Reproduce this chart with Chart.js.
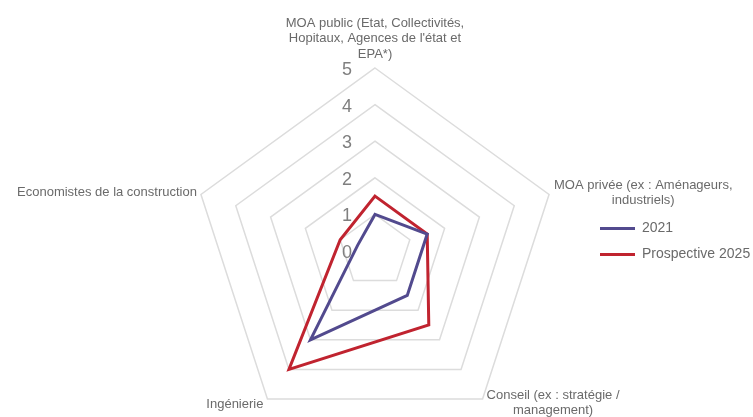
<!DOCTYPE html>
<html lang="fr">
<head>
<meta charset="utf-8">
<title>Radar 2021 / 2025</title>
<script src="https://cdn.jsdelivr.net/npm/chart.js@4.4.1/dist/chart.umd.min.js"></script>
<style>
  html, body { margin: 0; padding: 0; background: #fff; overflow: hidden; }
  #wrap { width: 753px; height: 417px; position: relative; }
</style>
</head>
<body>
<div id="wrap"><canvas id="radarChart"></canvas></div>
<script>
// Axis categories, split into lines like the original
const categories = [
  ['MOA public (Etat, Collectivités,', 'Hopitaux, Agences de l\'état et', 'EPA*)'],
  ['MOA privée (ex : Aménageurs,', 'industriels)'],
  ['Conseil (ex : stratégie /', 'management)'],
  ['Ingénierie'],
  ['Economistes de la construction']
];
const seriesNames = ['2021', 'Prospective 2025'];
const values2021 = [1, 1.5, 1.5, 3, 0.5];
const values2025 = [1.5, 1.5, 2.5, 4, 1];
const tickValues = [0, 1, 2, 3, 4, 5];

// where each category label sits relative to its vertex
const labelSides = ['top', 'right', 'bottomRight', 'bottomLeft', 'left'];

const COLORS = {
  blue: '#524a8e',
  red: '#c0232f',
  grid: '#dcdcdc',
  tick: '#7f7f7f',
  label: '#6a6a6a'
};

// radar placement inside the canvas
const LAYOUT = { cx: 375, cy: 251, radius: 183 };

Chart.defaults.font.family = "'Liberation Sans', Arial, sans-serif";

// Excel style labels: numbers left of the vertical axis, category labels around the pentagon
const axisText = {
  id: 'axisText',
  afterDraw(chart) {
    const s = chart.scales.r;
    const ctx = chart.ctx;
    ctx.save();
    ctx.textAlign = 'center';
    ctx.textBaseline = 'middle';

    ctx.font = "18px 'Liberation Sans', Arial, sans-serif";
    ctx.fillStyle = COLORS.tick;
    tickValues.forEach(v => {
      const d = s.getDistanceFromCenterForValue(v);
      ctx.fillText(String(v), s.xCenter - 28, s.yCenter - d + 2);
    });

    ctx.font = "13px 'Liberation Sans', Arial, sans-serif";
    ctx.fillStyle = COLORS.label;
    const lh = 15.5;
    categories.forEach((lines, i) => {
      const p = s.getPointPosition(i, s.drawingArea);
      const w = Math.max(...lines.map(t => ctx.measureText(t).width));
      const h = lines.length * lh;
      let left, top;
      switch (labelSides[i]) {
        case 'top':
          left = p.x - w / 2; top = p.y - 6 - h; break;
        case 'right':
          left = p.x + 5; top = p.y - 1.5 - h / 2; break;
        case 'bottomRight':
          left = p.x + 4; top = p.y + 4 - h / 2; break;
        case 'bottomLeft':
          left = p.x - 4 - w; top = p.y + 5 - h / 2; break;
        default:
          left = p.x - 4 - w; top = p.y - 2 - h / 2;
      }
      lines.forEach((t, k) => ctx.fillText(t, left + w / 2, top + k * lh + lh / 2));
    });
    ctx.restore();
  }
};

function makeDataset(label, data, color) {
  return {
    label: label,
    data: data,
    borderColor: color,
    backgroundColor: color,
    borderWidth: 3,
    borderJoinStyle: 'miter',
    fill: false,
    pointRadius: 0,
    pointHoverRadius: 0
  };
}

new Chart(document.getElementById('radarChart'), {
  type: 'radar',
  data: {
    labels: categories.map(c => c.join(' ')),
    datasets: [
      makeDataset(seriesNames[0], values2021, COLORS.blue),
      makeDataset(seriesNames[1], values2025, COLORS.red)
    ]
  },
  options: {
    responsive: true,
    maintainAspectRatio: false,
    animation: false,
    layout: { padding: { top: 66, right: 2, bottom: 0, left: 0 } },
    plugins: {
      legend: {
        position: 'right',
        align: 'center',
        maxWidth: 163,
        labels: {
          boxWidth: 35,
          boxHeight: 0,
          padding: 12,
          color: COLORS.label,
          font: { size: 14 }
        }
      },
      tooltip: { enabled: false }
    },
    scales: {
      r: {
        min: 0,
        max: 5,
        ticks: { stepSize: 1, display: false },
        grid: { color: COLORS.grid, lineWidth: 1.5 },
        angleLines: { display: false },
        pointLabels: { display: false },
        afterFit(scale) {
          scale.xCenter = LAYOUT.cx;
          scale.yCenter = LAYOUT.cy;
          scale.drawingArea = LAYOUT.radius;
        }
      }
    }
  },
  plugins: [axisText]
});
</script>
</body>
</html>
